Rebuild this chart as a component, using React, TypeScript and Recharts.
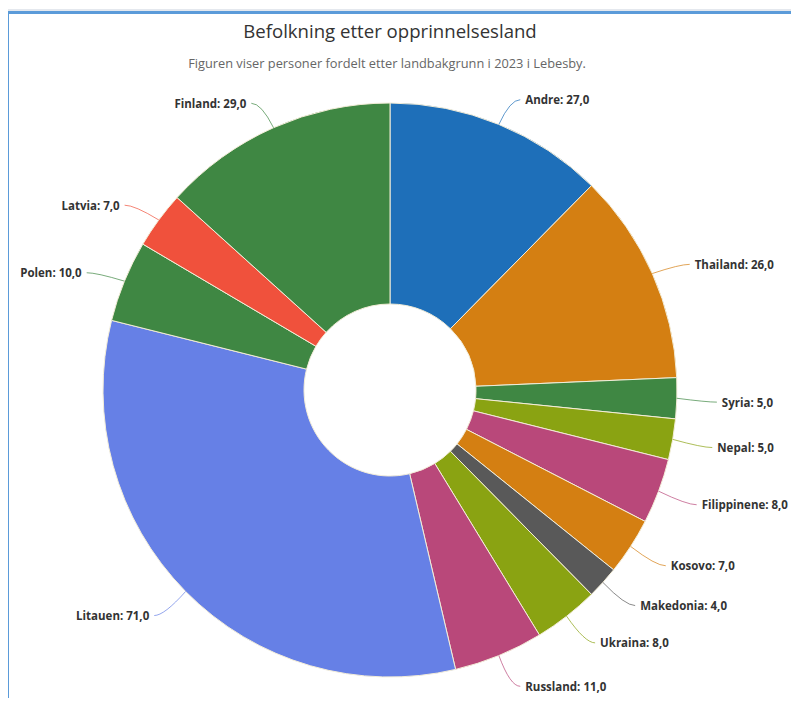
import { Cell, Pie, PieChart } from 'recharts'

const countries = [
  'Andre',
  'Thailand',
  'Syria',
  'Nepal',
  'Filippinene',
  'Kosovo',
  'Makedonia',
  'Ukraina',
  'Russland',
  'Litauen',
  'Polen',
  'Latvia',
  'Finland',
]
const persons = [27, 26, 5, 5, 8, 7, 4, 8, 11, 71, 10, 7, 29]
const colors = [
  '#1e6fb9',
  '#d47f12',
  '#3f8743',
  '#8aa312',
  '#b9487a',
  '#d47f12',
  '#595959',
  '#8aa312',
  '#b9487a',
  '#6680e6',
  '#3f8743',
  '#f0513c',
  '#3f8743',
]

const data = countries.map((name, i) => ({ name, value: persons[i] }))

const RADIAN = Math.PI / 180
const fmt = (v: number) => v.toFixed(1).replace('.', ',')

function SliceLabel(props: any) {
  const { cx, cy, midAngle, outerRadius, index, value, name } = props
  const cos = Math.cos(-midAngle * RADIAN)
  const sin = Math.sin(-midAngle * RADIAN)
  const sx = cx + outerRadius * cos
  const sy = cy + outerRadius * sin
  const ax = cx + (outerRadius + 30) * cos
  const ay = cy + (outerRadius + 30) * sin + 3
  const right = cos >= 0
  const ex = ax + (right ? 10 : -10)
  const color = colors[index]
  return (
    <g>
      <path
        d={`M${sx},${sy} Q${ax},${ay} ${ex},${ay}`}
        stroke={color}
        strokeOpacity={0.7}
        fill="none"
        strokeWidth={1}
      />
      <text
        x={ex + (right ? 5 : -5)}
        y={ay}
        dy={4.5}
        textAnchor={right ? 'start' : 'end'}
        fontFamily="'Open Sans', sans-serif"
        fontSize={11.5}
        fontWeight={700}
        fill="#333333"
      >
        {`${name}: ${fmt(value)}`}
      </text>
    </g>
  )
}

export default function App() {
  return (
    <div style={{ position: 'relative', width: 799, height: 706, margin: -8, background: '#fff' }}>
      <div
        style={{
          position: 'absolute',
          left: 0,
          top: 18,
          width: 780,
          textAlign: 'center',
          fontFamily: "'Open Sans', sans-serif",
          fontSize: 18.6,
          color: '#333333',
        }}
      >
        Befolkning etter opprinnelsesland
      </div>
      <div
        style={{
          position: 'absolute',
          left: 0,
          top: 54,
          width: 774,
          textAlign: 'center',
          fontFamily: "'Open Sans', sans-serif",
          fontSize: 12.8,
          color: '#666666',
        }}
      >
        Figuren viser personer fordelt etter landbakgrunn i 2023 i Lebesby.
      </div>
      <div style={{ position: 'absolute', left: 0, top: 0 }}>
        <PieChart width={799} height={706} margin={{ top: 0, right: 0, bottom: 0, left: 0 }}>
          <Pie
            data={data}
            dataKey="value"
            nameKey="name"
            cx={390}
            cy={390}
            innerRadius={86}
            outerRadius={287}
            startAngle={90}
            endAngle={-270}
            stroke="#f3edd8"
            strokeWidth={1}
            label={SliceLabel}
            labelLine={false}
            isAnimationActive={false}
          >
            {data.map((d, i) => (
              <Cell key={d.name} fill={colors[i]} />
            ))}
          </Pie>
        </PieChart>
      </div>
      <div
        style={{
          position: 'absolute',
          left: 0,
          top: 9,
          width: 799,
          height: 2,
          background: '#e4e8ee',
        }}
      />
      <div
        style={{
          position: 'absolute',
          left: 6,
          top: 11,
          width: 3,
          height: 695,
          background: '#5b9bd9',
        }}
      />
      <div
        style={{
          position: 'absolute',
          left: 6,
          top: 11,
          width: 793,
          height: 3,
          background: '#5b9bd9',
        }}
      />
    </div>
  )
}
